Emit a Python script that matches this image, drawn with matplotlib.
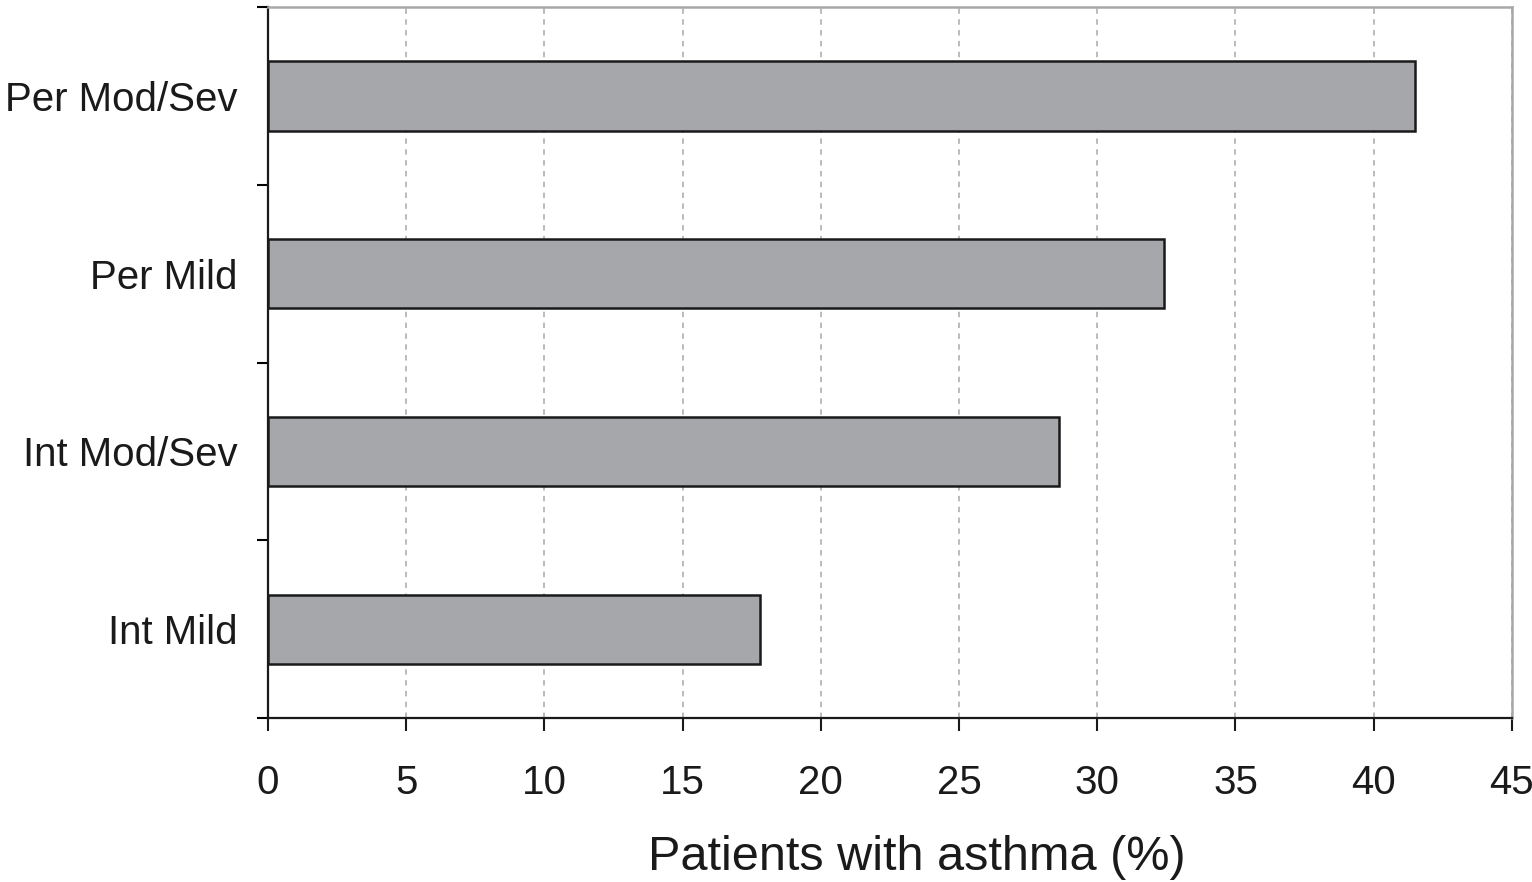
import numpy as np
import matplotlib.pyplot as plt
from matplotlib.ticker import FixedLocator

categories = ['Int Mild', 'Int Mod/Sev', 'Per Mild', 'Per Mod/Sev']
values = [17.8, 28.6, 32.4, 41.5]
xticks = [0, 5, 10, 15, 20, 25, 30, 35, 40, 45]

plt.rcParams['font.family'] = ['Liberation Sans', 'DejaVu Sans']

fig = plt.figure(figsize=(15.32, 8.82), dpi=100)
ax = fig.add_axes([0.1749, 0.1859, 0.9869 - 0.1749, 0.992 - 0.1859])

y = np.arange(len(categories))
ax.barh(y, values, height=0.39, color='#a6a7ab', edgecolor='#1a1a1a',
        linewidth=1.8, zorder=3)

ax.set_xlim(0, 45)
ax.set_ylim(-0.5, len(categories) - 0.5)

# dashed vertical grid
ax.set_xticks(xticks)
ax.xaxis.grid(True, linestyle=(0, (3, 3)), color='#b5b5b5', linewidth=1.3, zorder=0)
ax.tick_params(axis='x', labelsize=29, length=9, width=1.5, direction='out',
               pad=24, colors='#1a1a1a')

# y ticks at boundaries, labels at centres
ax.yaxis.set_major_locator(FixedLocator(np.arange(-0.5, len(categories), 1.0)))
ax.yaxis.set_major_formatter(plt.NullFormatter())
ax.yaxis.set_minor_locator(FixedLocator(y))
ax.set_yticklabels(categories, minor=True)
ax.tick_params(axis='y', which='major', length=8, width=1.5, direction='out')
ax.tick_params(axis='y', which='minor', length=0, labelsize=29, pad=22,
               colors='#1a1a1a')

for s in ['left', 'bottom']:
    ax.spines[s].set_linewidth(1.6)
    ax.spines[s].set_color('#1a1a1a')
for s in ['top', 'right']:
    ax.spines[s].set_linewidth(1.8)
    ax.spines[s].set_color('#a8a8a8')

ax.set_xlabel('Patients with asthma (%)', fontsize=35, labelpad=24, color='#1a1a1a')
ax.xaxis.label.set_x(0.522)

fig.savefig('out.png', dpi=100)
